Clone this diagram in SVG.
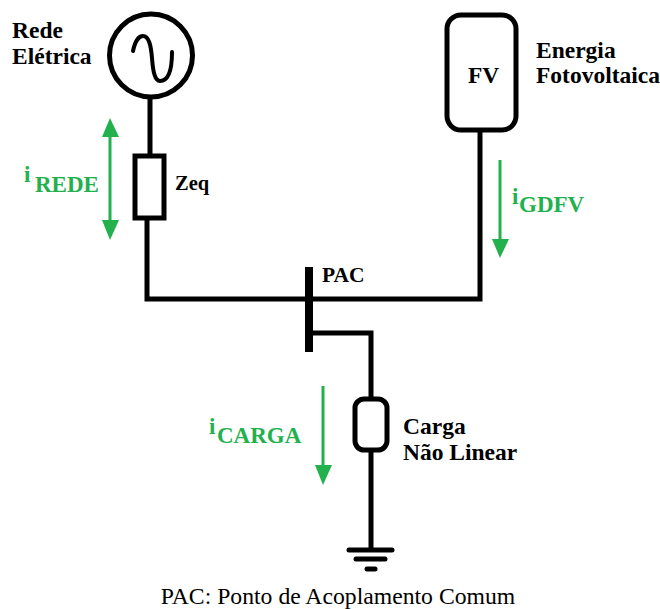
<svg xmlns="http://www.w3.org/2000/svg" width="660" height="609" viewBox="0 0 660 609">
<style>
.w{fill:none;stroke:#000;stroke-width:5}
.t{font-family:"Liberation Serif",serif;font-weight:bold;font-size:23.5px;fill:#000}
.g{font-family:"Liberation Serif",serif;font-weight:bold;fill:#22b14c}
.a{stroke:#22b14c;stroke-width:3;fill:none}
.h{fill:#22b14c}
</style>
<rect width="660" height="609" fill="#fff"/>
<g id="connectors">
<path class="w" d="M150 97V156"/>
<path class="w" d="M147 219V299H480V130"/>
<path class="w" d="M309 333H371V399"/>
<path class="w" d="M371 450V550"/>
</g>
<g id="source">
<circle class="w" cx="151" cy="55.5" r="41.5"/>
<path d="M133 51C135 41 139 36 143 36C149 36 151 46 152 58C153 72 155 81 160 81C168 81 172 70 172 52" fill="none" stroke="#000" stroke-width="4" stroke-linecap="round"/>
<text class="t" x="12" y="38">Rede</text>
<text class="t" x="12" y="64">Elétrica</text>
</g>
<g id="zeq">
<rect class="w" x="135" y="156" width="29" height="62"/>
<text class="t" x="175" y="190" style="font-size:20.5px">Zeq</text>
</g>
<g id="fv">
<rect class="w" x="447" y="15" width="69" height="115" rx="14"/>
<text class="t" x="468" y="83">FV</text>
<text class="t" x="536" y="58">Energia</text>
<text class="t" x="536" y="83">Fotovoltaica</text>
</g>
<g id="pac">
<rect x="305" y="267" width="8" height="85" fill="#000"/>
<text class="t" x="322" y="282" style="font-size:21.5px">PAC</text>
</g>
<g id="carga">
<rect class="w" x="355" y="399" width="32" height="51" rx="9"/>
<text class="t" x="403" y="434">Carga</text>
<text class="t" x="403" y="460">Não Linear</text>
</g>
<g id="ground">
<path class="w" d="M349 550H392" stroke-linecap="round"/>
<path class="w" d="M356 559H385" stroke-linecap="round"/>
<path class="w" d="M367 569H375" stroke-linecap="round"/>
</g>
<g id="i-rede">
<path class="a" d="M110 135V222"/>
<path class="h" d="M110 118L119 137H102Z"/>
<path class="h" d="M110 240L119 220H102Z"/>
<text class="g" x="24" y="182" style="font-size:23px">i</text>
<text class="g" x="35" y="192" style="font-size:23px">REDE</text>
</g>
<g id="i-gdfv">
<path class="a" d="M500 160V241"/>
<path class="h" d="M500 258L509 239H492Z"/>
<text class="g" x="512" y="204" style="font-size:23px">i</text>
<text class="g" x="519" y="212" style="font-size:23px">GDFV</text>
</g>
<g id="i-carga">
<path class="a" d="M323 386V467"/>
<path class="h" d="M323 485L332 465H315Z"/>
<text class="g" x="209" y="434" style="font-size:23px">i</text>
<text class="g" x="217" y="443" style="font-size:23px">CARGA</text>
</g>
<text x="338" y="604" text-anchor="middle" font-family="Liberation Serif, serif" font-size="23.7" fill="#000">PAC: Ponto de Acoplamento Comum</text>
</svg>
